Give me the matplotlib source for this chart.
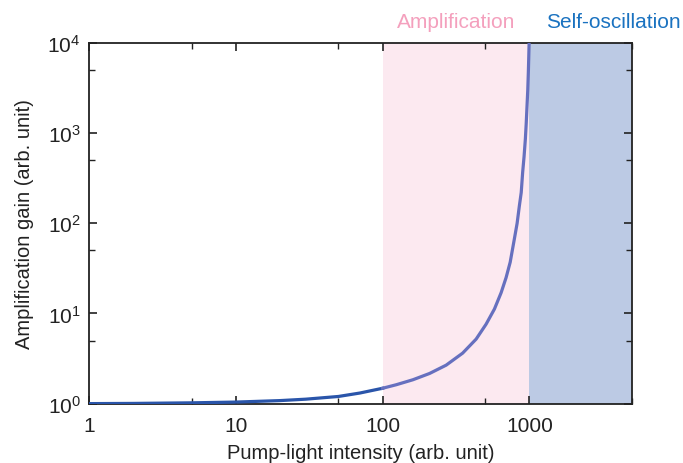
import numpy as np
import matplotlib.pyplot as plt
from matplotlib.ticker import LogLocator, FixedLocator, FixedFormatter, NullFormatter

plt.rcParams['font.family'] = ['Liberation Sans', 'DejaVu Sans']
plt.rcParams['mathtext.default'] = 'regular'

# values
pump = np.array([1, 2, 5, 10, 20, 30, 50, 70, 100, 124, 161, 209, 271, 351, 434, 507,
                 578, 642, 694, 740, 790, 825, 855, 880, 900, 920, 939, 952, 964,
                 975, 984, 990, 996])
gain = np.array([1.0, 1.005, 1.02, 1.04, 1.08, 1.12, 1.2, 1.31, 1.48, 1.62, 1.84, 2.16,
                 2.67, 3.63, 5.2, 7.6, 11.2, 17.0, 25, 37, 67, 100, 157, 220, 368,
                 550, 863, 1300, 2020, 3000, 4740, 6800, 10000])
amp_region = (100, 1000)
osc_region = (1000, 5000)
xticks = [1, 10, 100, 1000]
xlabels = ['1', '10', '100', '1000']
yticks = [1, 10, 100, 1000, 10000]
ylabels = ['$10^{0}$', '$10^{1}$', '$10^{2}$', '$10^{3}$', '$10^{4}$']

fig = plt.figure(figsize=(6.83, 4.64), dpi=100)
ax = fig.add_axes([0.1303, 0.128, 0.795, 0.777])

ax.axvspan(*amp_region, color='#fce9f0', lw=0, zorder=0)
ax.axvspan(*osc_region, color='#bccae4', lw=0, zorder=0)

left = pump <= 100
right = pump >= 100
ax.plot(pump[left], gain[left], color='#2a55aa', lw=2.3, zorder=3)
ax.plot(pump[right], gain[right], color='#6670bf', lw=2.3, zorder=3)

ax.set_xscale('log')
ax.set_yscale('log')
ax.set_xlim(1, 5000)
ax.set_ylim(1, 10000)

ax.xaxis.set_major_locator(FixedLocator(xticks))
ax.xaxis.set_major_formatter(FixedFormatter(xlabels))
ax.yaxis.set_major_locator(FixedLocator(yticks))
ax.yaxis.set_major_formatter(FixedFormatter(ylabels))
ax.xaxis.set_minor_locator(LogLocator(base=10, subs=[5]))
ax.yaxis.set_minor_locator(LogLocator(base=10, subs=[5]))
ax.xaxis.set_minor_formatter(NullFormatter())
ax.yaxis.set_minor_formatter(NullFormatter())

ax.tick_params(which='both', direction='in', top=True, right=True, colors='#222222',
               labelcolor='#222222', labelsize=15)
ax.tick_params(which='major', length=6, width=1.2)
ax.tick_params(which='minor', length=4, width=1.0)
ax.tick_params(axis='x', pad=9)
ax.tick_params(axis='y', pad=6)
for s in ax.spines.values():
    s.set_color('#222222')
    s.set_linewidth(1.3)

ax.set_xlabel('Pump-light intensity (arb. unit)', fontsize=14.5, color='#222222', labelpad=6)
ax.set_ylabel('Amplification gain (arb. unit)', fontsize=14.5, color='#222222', labelpad=10)

fig.text(456 / 683, 1 - 22 / 464, 'Amplification', color='#f4a0bd', fontsize=15,
         ha='center', va='center')
fig.text(613 / 683, 1 - 22 / 464, 'Self-oscillation', color='#1a72c0', fontsize=15,
         ha='center', va='center')

fig.savefig('out.png', dpi=100)
